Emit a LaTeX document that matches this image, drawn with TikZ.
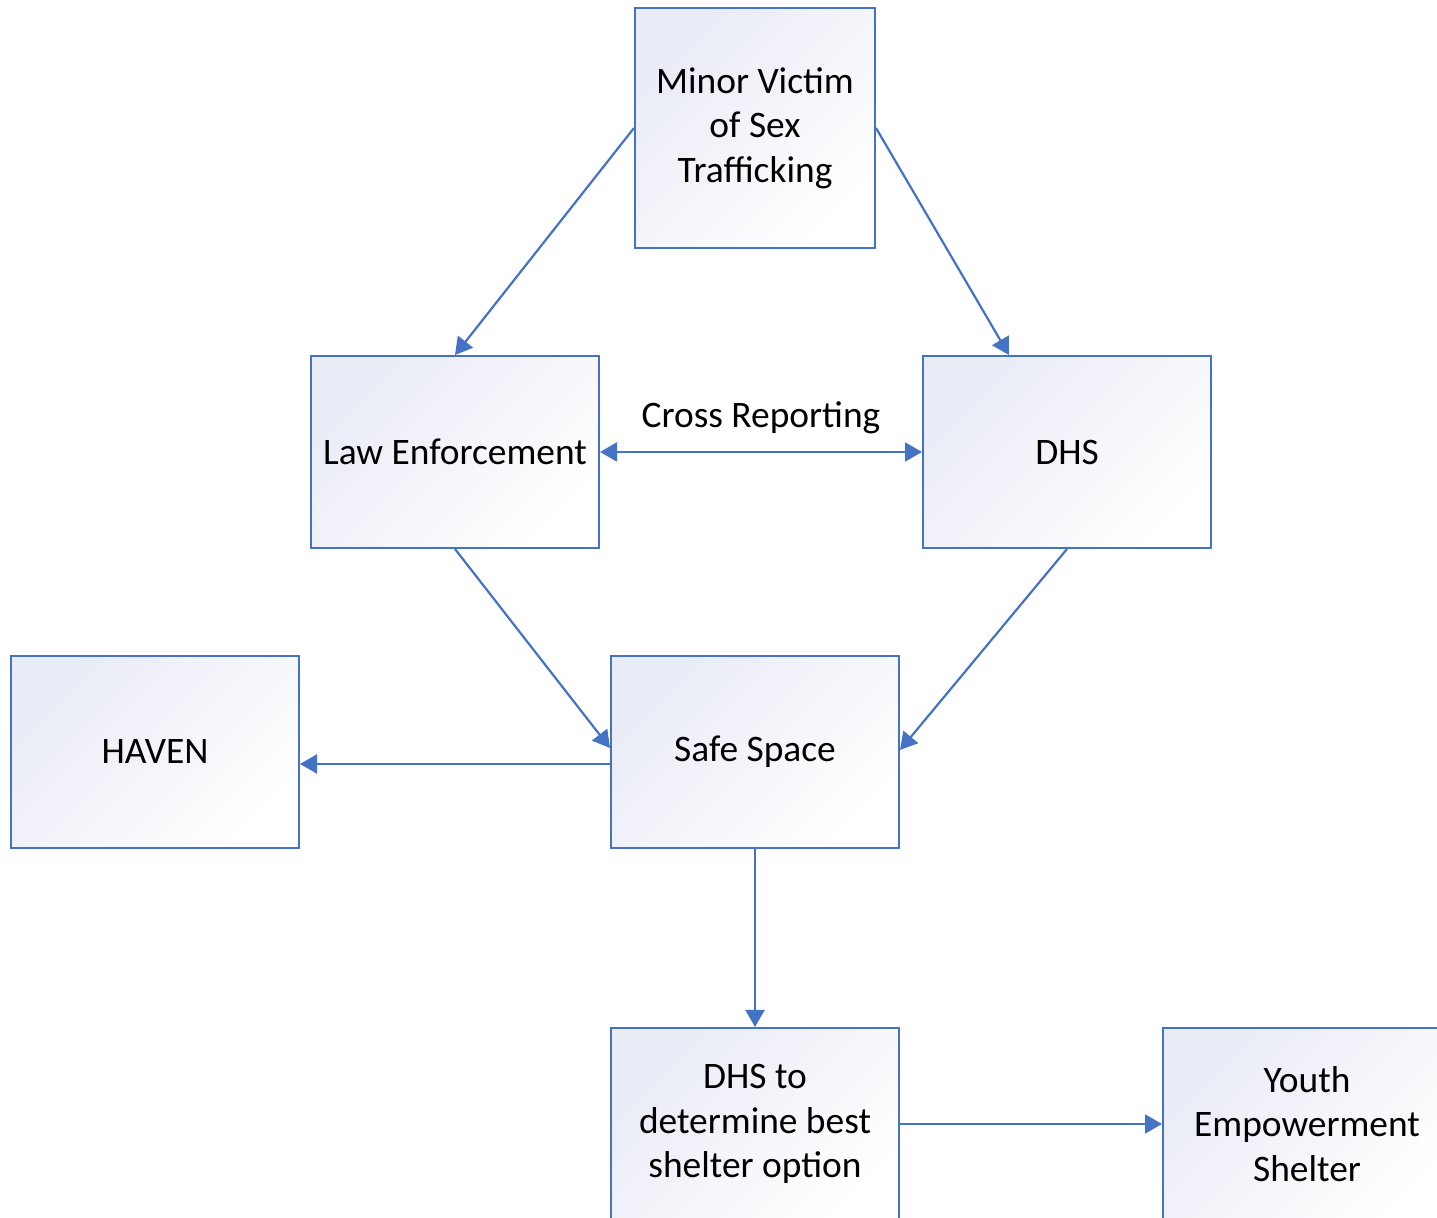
\documentclass[tikz,border=0pt]{standalone}
\usepackage{fontspec}
\setmainfont{Carlito}
\usepackage{tikz}
\usetikzlibrary{arrows.meta,calc}

\definecolor{lineblue}{HTML}{4472C4}
\definecolor{boxtint}{HTML}{E9EBF6}

\tikzset{
  flowbox/.style={draw=lineblue, line width=1pt, top color=boxtint, bottom color=white,
    shading angle=45, align=center, inner sep=0pt,
    font=\fontsize{18.7}{22.3}\selectfont},
  flowarrow/.style={draw=lineblue, line width=1.1pt, -{Triangle[width=9.5pt,length=8.5pt]}},
}

\begin{document}
\begin{tikzpicture}[x=0.5pt,y=-0.5pt]
        \useasboundingbox (0,0) rectangle (1437,1218);
        % the boxes
        \node[flowbox, minimum width=120pt, minimum height=120pt] (victim) at (755,128)
          {Minor Victim\\of Sex\\Trafficking};
        \node[flowbox, minimum width=144pt, minimum height=96pt] (law) at (455,452)
          {Law Enforcement};
        \node[flowbox, minimum width=144pt, minimum height=96pt] (dhs) at (1067,452)
          {DHS};
        \node[flowbox, minimum width=144pt, minimum height=96pt] (haven) at (155,752)
          {HAVEN};
        \node[flowbox, minimum width=144pt, minimum height=96pt] (safe) at (755,752)
          {Safe Space};
        \node[flowbox, minimum width=144pt, minimum height=96pt] (determine) at (755,1124)
          {DHS to\\determine best\\shelter option};
        \node[flowbox, minimum width=144pt, minimum height=96pt] (youth) at (1307,1124)
          {Youth\\Empowerment\\Shelter};
        % the arrows
        \draw[flowarrow] (victim.west) -- (law.north);
        \draw[flowarrow] (victim.east) -- ($(dhs.north west)!0.3!(dhs.north east)$);
        \draw[flowarrow, {Triangle[width=9.5pt,length=8.5pt]}-{Triangle[width=9.5pt,length=8.5pt]}]
          (law.east) -- (dhs.west)
          node[midway, above=5pt, font=\fontsize{18.7}{22.3}\selectfont] (cross) {Cross Reporting};
        \draw[flowarrow] (law.south) -- ([yshift=2pt]safe.west);
        \draw[flowarrow] (dhs.south) -- ([yshift=1pt]safe.east);
        \draw[flowarrow] ([yshift=-6pt]safe.west) -- ([yshift=-6pt]haven.east);
        \draw[flowarrow] (safe.south) -- (determine.north);
        \draw[flowarrow] (determine.east) -- (youth.west);
      \end{tikzpicture}
\end{document}
